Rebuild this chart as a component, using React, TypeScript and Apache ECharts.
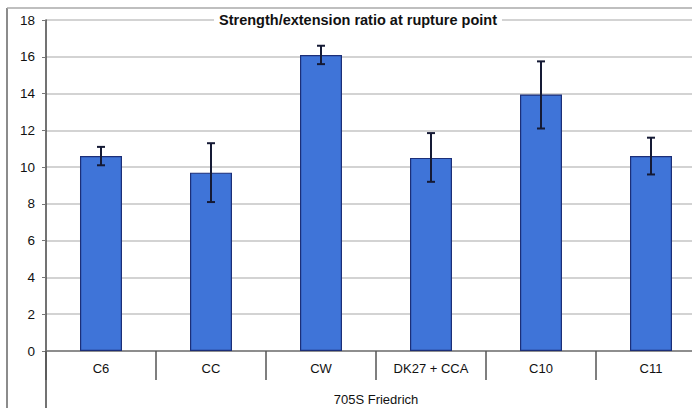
import React, { useEffect, useRef } from "react";
import * as echarts from "echarts";

const categories = ["C6", "CC", "CW", "DK27 + CCA", "C10", "C11"];
const values = [10.6, 9.7, 16.1, 10.5, 13.95, 10.6];
const errLow = [10.1, 8.1, 15.6, 9.2, 12.1, 9.6];
const errHigh = [11.1, 11.3, 16.6, 11.85, 15.75, 11.6];
const yTicks = [0, 2, 4, 6, 8, 10, 12, 14, 16, 18];
const title = "Strength/extension ratio at rupture point";
const xName = "705S Friedrich";

export default function App() {
  const ref = useRef<HTMLDivElement>(null);
  useEffect(() => {
    document.body.style.margin = "0";
    if (!ref.current) return;
    const chart = echarts.init(ref.current, null, { renderer: "svg" });
    const font = "'Liberation Sans', Arial, sans-serif";
    chart.setOption({
      animation: false,
      backgroundColor: "#ffffff",
      title: {
        text: title,
        left: 353,
        textAlign: "center",
        top: 12,
        padding: [0, 5],
        backgroundColor: "#ffffff",
        textStyle: { fontFamily: font, fontSize: 14.5, fontWeight: "bold", color: "#111" },
      },
      grid: { left: 46, top: 20, bottom: 57, right: -14, containLabel: false, outerBoundsMode: "none" },
      xAxis: {
        type: "category",
        data: categories,
        name: xName,
        nameLocation: "middle",
        nameGap: 42,
        nameTextStyle: { fontFamily: font, fontSize: 13, color: "#111" },
        axisLine: { show: true, lineStyle: { color: "#777", width: 1.5 } },
        axisTick: { show: true, length: 29, lineStyle: { color: "#555", width: 1.5 } },
        axisLabel: { fontFamily: font, fontSize: 13, color: "#111", margin: 11 },
      },
      yAxis: {
        type: "value",
        min: 0,
        max: 18,
        interval: 2,
        axisLine: { show: true, lineStyle: { color: "#444", width: 1.5 } },
        axisTick: { show: true, length: 4, lineStyle: { color: "#777" } },
        axisLabel: { fontFamily: font, fontSize: 13.5, color: "#111", margin: 11,
          formatter: (v: number) => (yTicks.includes(v) ? String(v) : "") },
        splitLine: { show: true, lineStyle: { color: "#c4c4c4", width: 1.5 } },
      },
      series: [
        {
          type: "bar",
          data: values,
          barWidth: 42,
          itemStyle: { color: "#3f74d8", borderColor: "#1c2f78", borderWidth: 1.2 },
          z: 2,
        },
        {
          type: "custom",
          z: 3,
          data: categories.map((_, i) => [i, errLow[i], errHigh[i]]),
          renderItem: (params: any, api: any) => {
            const x = api.value(0);
            const lo = api.coord([x, api.value(1)]);
            const hi = api.coord([x, api.value(2)]);
            const cap = 4;
            const st = { stroke: "#151a35", lineWidth: 2 };
            return {
              type: "group",
              children: [
                { type: "line", shape: { x1: lo[0], y1: lo[1], x2: hi[0], y2: hi[1] }, style: st },
                { type: "line", shape: { x1: hi[0] - cap, y1: hi[1], x2: hi[0] + cap, y2: hi[1] }, style: st },
                { type: "line", shape: { x1: lo[0] - cap, y1: lo[1], x2: lo[0] + cap, y2: lo[1] }, style: st },
              ],
            };
          },
        },
      ],
      graphic: [
        { type: "line", shape: { x1: 46, y1: 351, x2: 46, y2: 408 }, style: { stroke: "#444", lineWidth: 1.5 } },
        { type: "line", shape: { x1: 7, y1: 8, x2: 7, y2: 408 }, style: { stroke: "#666", lineWidth: 1.5 } },
        { type: "line", shape: { x1: 7, y1: 8, x2: 692, y2: 8 }, style: { stroke: "#aaa", lineWidth: 1.5 } },
      ],
    });
    return () => chart.dispose();
  }, []);
  return <div ref={ref} style={{ width: 692, height: 408 }} />;
}
